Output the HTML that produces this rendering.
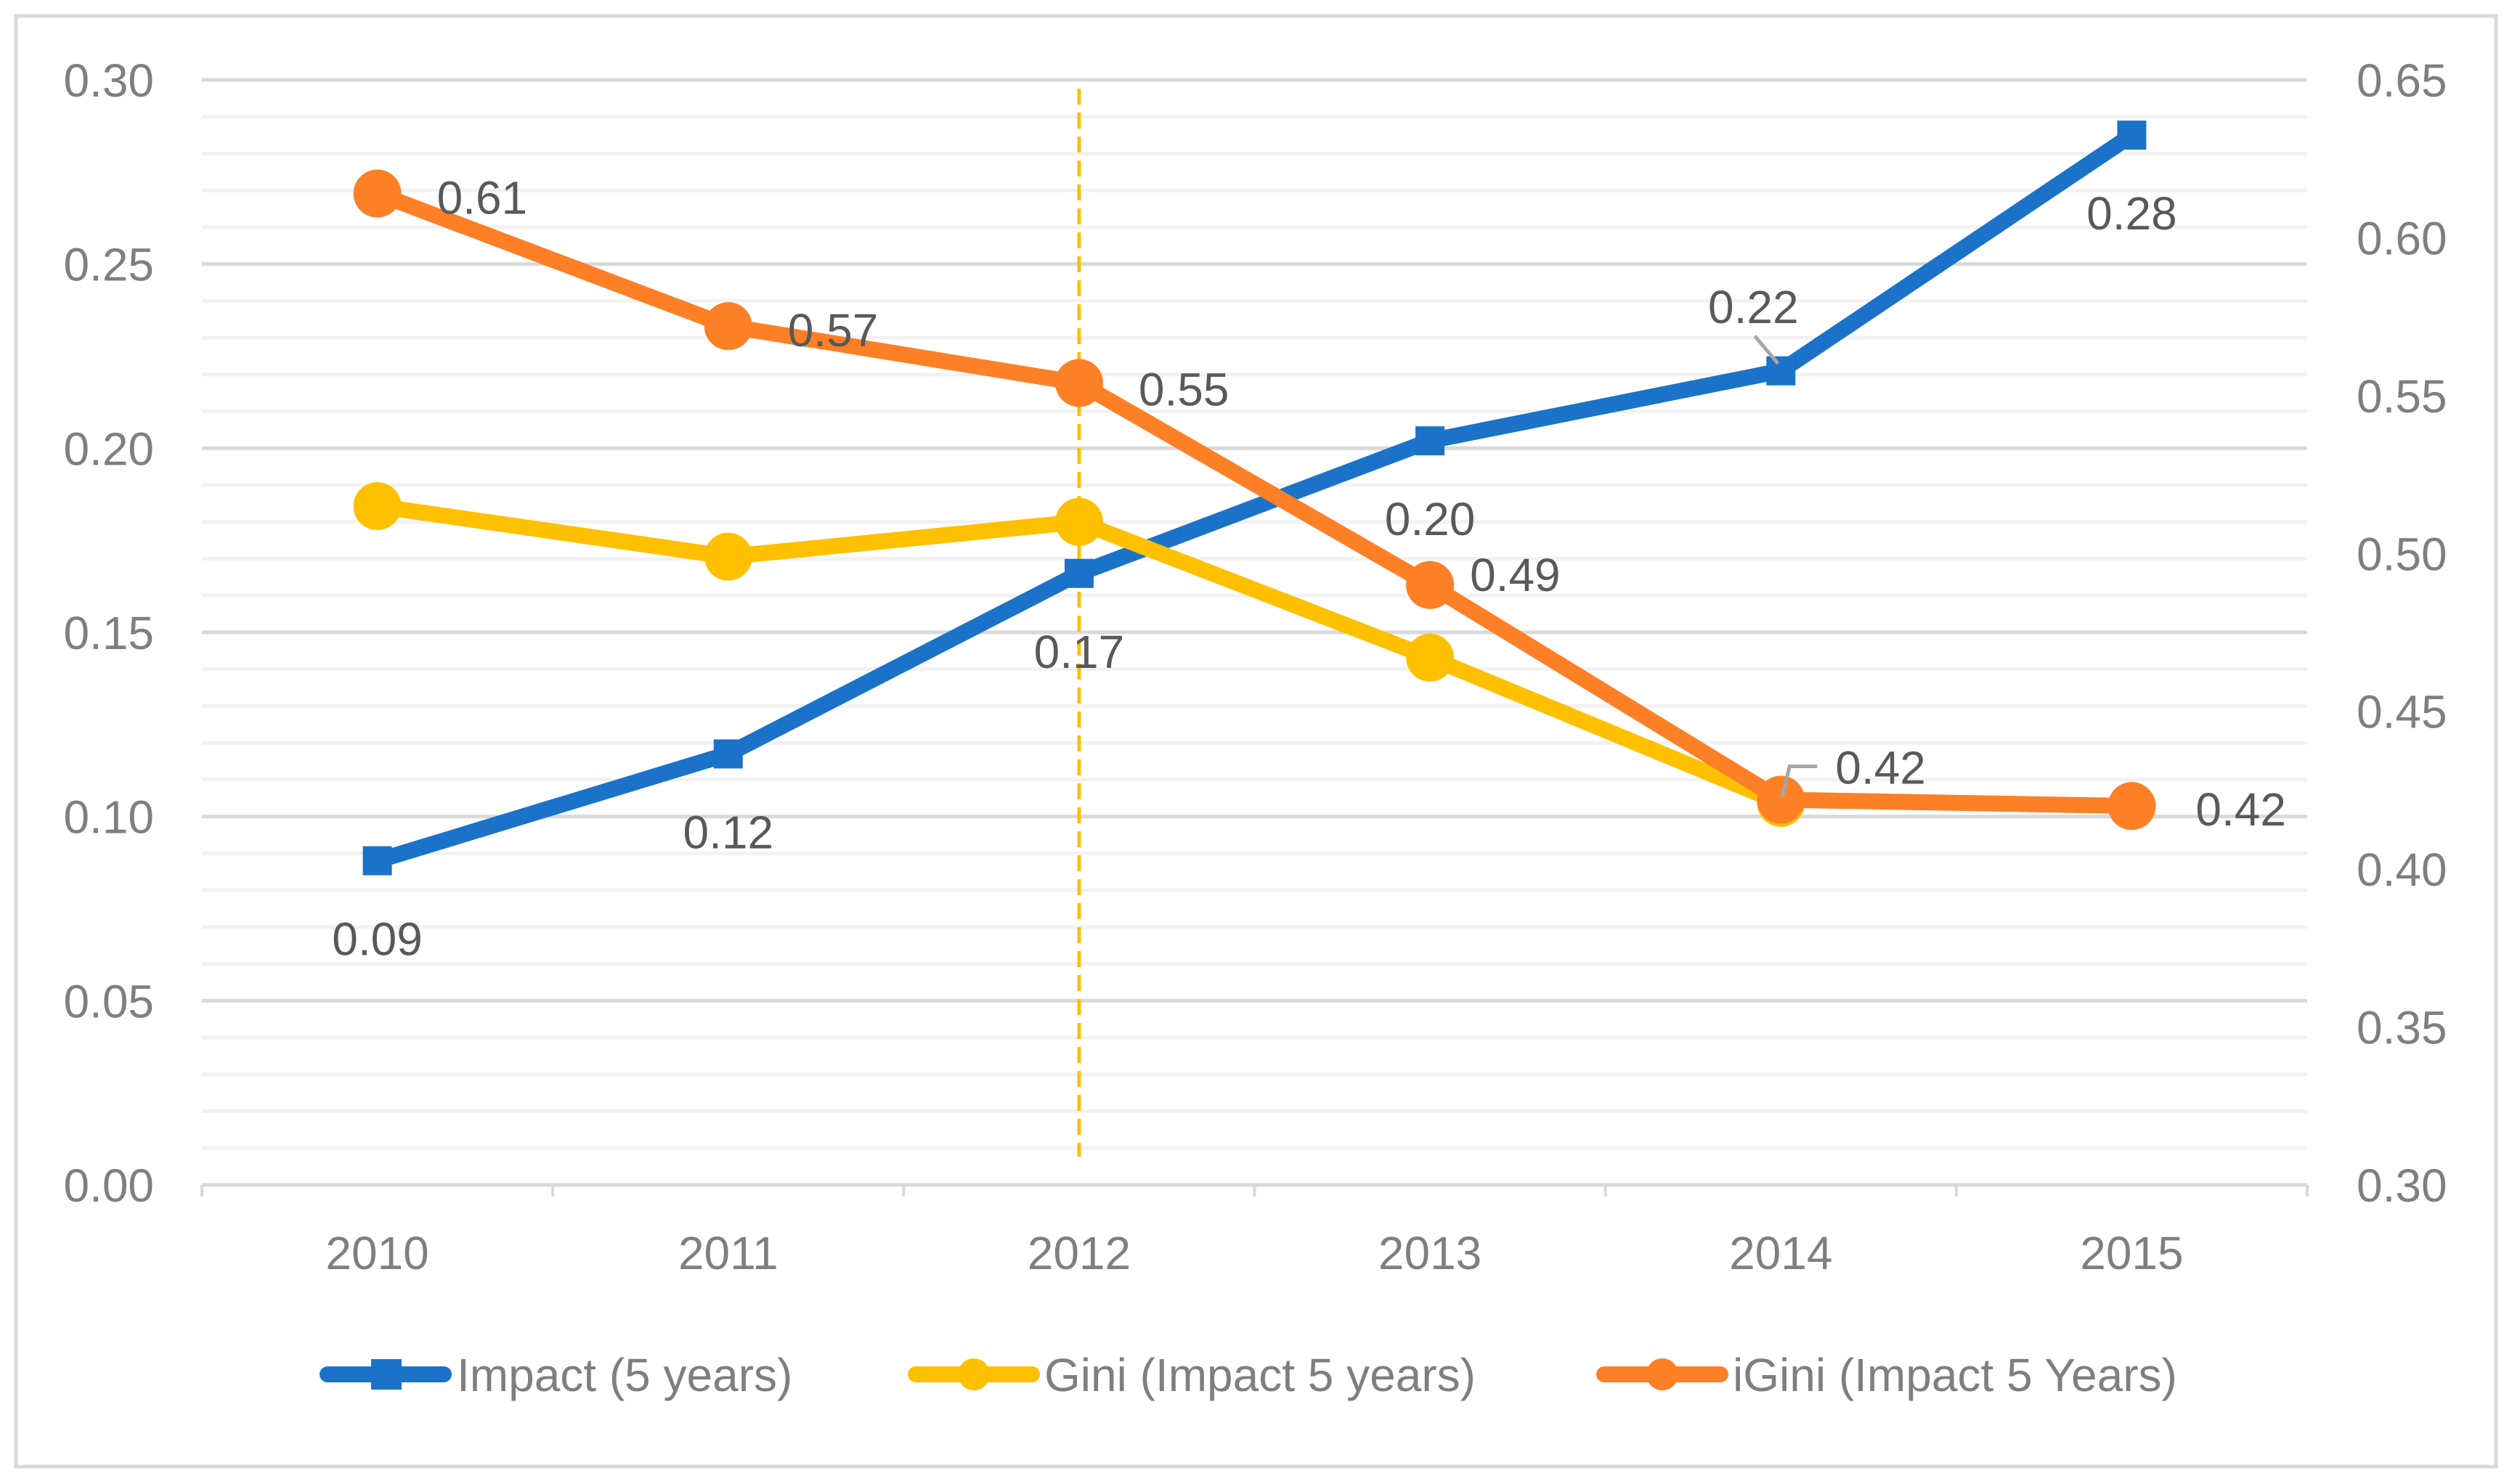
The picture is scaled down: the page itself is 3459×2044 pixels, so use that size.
<!DOCTYPE html>
<html><head><meta charset="utf-8"><style>
html,body{margin:0;padding:0;background:#fff;}
svg{display:block;font-family:"Liberation Sans",sans-serif;}
</style></head><body>
<svg id="chart" width="3459" height="2044" viewBox="0 0 3459 2044">
<rect x="22" y="22" width="3415" height="1998" fill="#fff" stroke="#d9d9d9" stroke-width="5"/>
<g id="grid"></g><g id="axes"></g><g id="series"></g><g id="labels"></g><g id="legend"></g>
</svg>
<script>
const categories = ["2010","2011","2012","2013","2014","2015"];
const impactValues = [0.088, 0.117, 0.166, 0.202, 0.221, 0.285];
const giniValues = [0.515, 0.499, 0.510, 0.467, 0.421];
const iginiValues = [0.614, 0.572, 0.554, 0.490, 0.422, 0.420];
const impactLabels = ["0.09","0.12","0.17","0.20","0.22","0.28"];
const iginiLabels = ["0.61","0.57","0.55","0.49","0.42","0.42"];
const leftTicks = ["0.00","0.05","0.10","0.15","0.20","0.25","0.30"];
const rightTicks = ["0.30","0.35","0.40","0.45","0.50","0.55","0.60","0.65"];

const NS="http://www.w3.org/2000/svg";
const X0=278,X1=3177,YT=110,YB=1632;
const band=(X1-X0)/categories.length;
const xS=i=>X0+band*(i+0.5);
const yL=v=>YB-(v/0.30)*(YB-YT);
const yR=v=>YB-((v-0.30)/0.35)*(YB-YT);
function mk(tag,attrs,parent){const e=document.createElementNS(NS,tag);for(const k in attrs)e.setAttribute(k,attrs[k]);document.getElementById(parent).appendChild(e);return e;}
const BLUE="#1a73c8",YEL="#ffc000",ORA="#fd7f26";

for(let k=1;k<=30;k++){
  const y=yL(k*0.01);
  const major=k%5===0;
  const g=mk('line',{x1:X0,x2:X1,y1:y,y2:y,stroke:major?'#d9d9d9':'#f2f2f2','stroke-width':5},'grid');
  
  
}
let ax=mk('line',{x1:X0,x2:X1,y1:YB,y2:YB,stroke:'#d9d9d9','stroke-width':5},'axes');


for(let i=0;i<=categories.length;i++){
  const t=mk('line',{x1:X0+band*i,x2:X0+band*i,y1:YB,y2:YB+16,stroke:'#d9d9d9','stroke-width':4},'axes');
  
  
}
categories.forEach((c,i)=>{
  const t=mk('text',{x:xS(i),y:1748,'text-anchor':'middle','font-size':64,fill:'#7f7f7f'},'axes');
  t.textContent=c;
  
  
});
leftTicks.forEach(l=>{
  const t=mk('text',{x:212,y:yL(parseFloat(l))+23,'text-anchor':'end','font-size':64,fill:'#7f7f7f'},'axes');
  t.textContent=l;
  
  
});
rightTicks.forEach(l=>{
  const t=mk('text',{x:3245,y:yR(parseFloat(l))+23,'text-anchor':'start','font-size':64,fill:'#7f7f7f'},'axes');
  t.textContent=l;
  
  
});
let dl=mk('line',{x1:xS(2),x2:xS(2),y1:122,y2:1593,stroke:YEL,'stroke-width':5,'stroke-dasharray':'22 11'},'series');



function series(vals,scale,color,name){
  const pts=vals.map((v,i)=>xS(i)+','+scale(v)).join(' ');
  const p=mk('polyline',{points:pts,fill:'none',stroke:color,'stroke-width':22,'stroke-linejoin':'round','stroke-linecap':'round'},'series');
  
  
}
function circles(vals,scale,color,name){
  vals.forEach((v,i)=>{
    const c=mk('circle',{cx:xS(i),cy:scale(v),r:33,fill:color},'series');
    
    
  });
}
series(impactValues,yL,BLUE,'impact');
impactValues.forEach((v,i)=>{
  const r=mk('rect',{x:xS(i)-20,y:yL(v)-20,width:40,height:40,fill:BLUE},'series');
  
  
});
series(giniValues,yR,YEL,'gini');
circles(giniValues,yR,YEL,'gini');
series(iginiValues,yR,ORA,'igini');
circles(iginiValues,yR,ORA,'igini');

const impOff=[[0,108],[0,108],[0,108],[0,108],[-38,-88],[0,108]];
impactLabels.forEach((l,i)=>{
  const t=mk('text',{x:xS(i)+impOff[i][0],y:yL(impactValues[i])+impOff[i][1]+22,'text-anchor':'middle','font-size':64,fill:'#595959'},'labels');
  t.textContent=l;
  
  
});
const igOff=[[82,5],[82,5],[82,8],[55,-15],[75,-45],[88,4]];
iginiLabels.forEach((l,i)=>{
  const t=mk('text',{x:xS(i)+igOff[i][0],y:yR(iginiValues[i])+igOff[i][1]+23,'text-anchor':'start','font-size':64,fill:'#595959'},'labels');
  t.textContent=l;
  
  
});
let l1=mk('polyline',{points:`${xS(4)-36},${yL(impactValues[4])-48} ${xS(4)-4},${yL(impactValues[4])-10}`,fill:'none',stroke:'#a6a6a6','stroke-width':5},'labels');


let l2=mk('polyline',{points:`${xS(4)+2},${yR(iginiValues[4])-4} ${xS(4)+12},${yR(iginiValues[4])-46} ${xS(4)+50},${yR(iginiValues[4])-46}`,fill:'none',stroke:'#a6a6a6','stroke-width':5},'labels');



const legend=[["Impact (5 years)",BLUE,'sq',441,629],["Gini (Impact 5 years)",YEL,'c',1251,1438],["iGini (Impact 5 Years)",ORA,'c',2199,2386]];
legend.forEach(([txt,col,m,x0,tx])=>{
  const y=1893;
  const ln=mk('line',{x1:x0+10,x2:x0+170,y1:y,y2:y,stroke:col,'stroke-width':22,'stroke-linecap':'round'},'legend');
  
  
  if(m==='sq'){const r=mk('rect',{x:x0+70,y:y-21,width:42,height:42,fill:col},'legend');}
  else{const c=mk('circle',{cx:x0+90,cy:y,r:22,fill:col},'legend');}
  const t=mk('text',{x:tx,y:y+23,'font-size':64,fill:'#7f7f7f'},'legend');
  t.textContent=txt;
  
  
});
</script>
</body></html>
